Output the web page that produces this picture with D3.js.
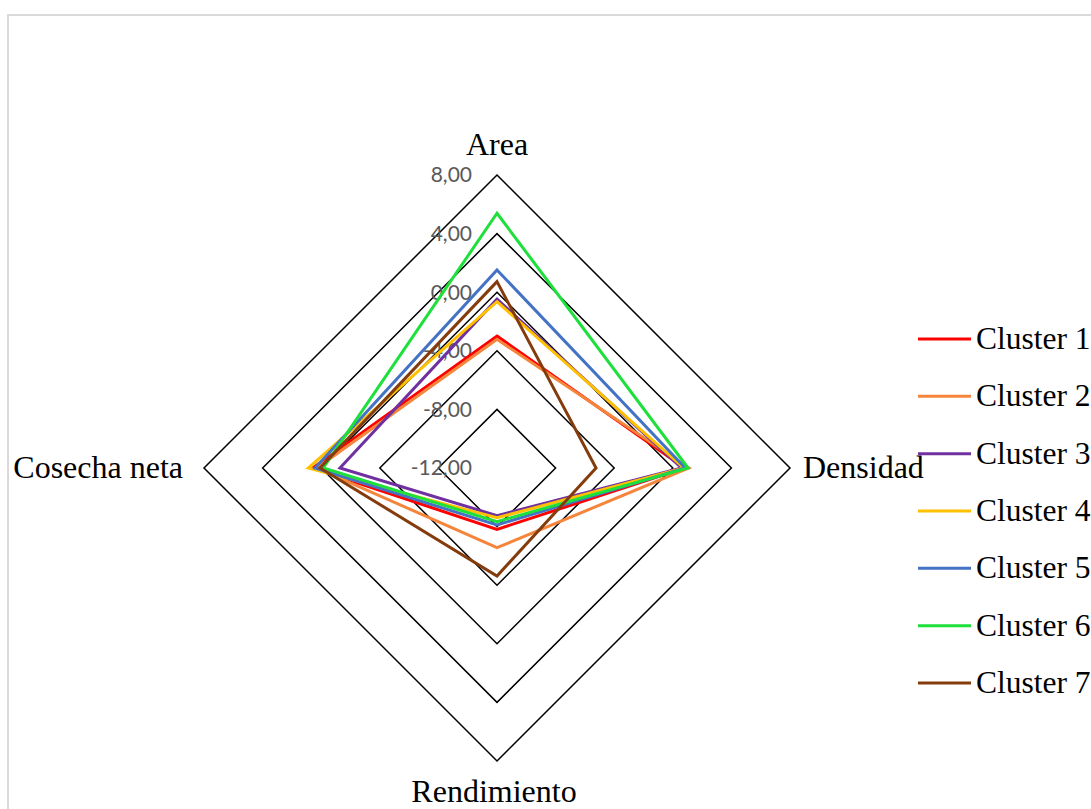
<!DOCTYPE html>
<html>
<head>
<meta charset="utf-8">
<script src="https://cdn.jsdelivr.net/npm/d3@7"></script>
<style>
  html, body { margin: 0; padding: 0; background: #fff; }
  svg { display: block; }
</style>
</head>
<body>
<svg id="chart" width="1091" height="809"></svg>
<script>
// Radar axes, clockwise from the top
const axes = ["Area", "Densidad", "Rendimiento", "Cosecha neta"];

// Cluster profiles (Area, Densidad, Rendimiento, Cosecha neta)
const cluster1 = [-2.99, 0.80, -7.81, 0.58];
const cluster2 = [-3.22, 1.10, -6.56, 0.30];
const cluster3 = [-0.48, 0.60, -8.75, -1.28];
const cluster4 = [-0.65, 0.75, -8.60, 0.88];
const cluster5 = [1.52, 0.85, -8.11, 0.42];
const cluster6 = [5.39, 1.04, -8.34, -0.14];
const cluster7 = [0.72, -5.24, -4.63, 0.08];

const seriesNames = ["Cluster 1", "Cluster 2", "Cluster 3", "Cluster 4", "Cluster 5", "Cluster 6", "Cluster 7"];
const seriesValues = [cluster1, cluster2, cluster3, cluster4, cluster5, cluster6, cluster7];
const seriesColors = ["#FF0000", "#F5853A", "#7030A0", "#FFC000", "#4472C4", "#1EE03A", "#843C0C"];

// Radial tick values and their labels
const tickValues = [-12, -8, -4, 0, 4, 8];
const tickLabels = ["-12,00", "-8,00", "-4,00", "0,00", "4,00", "8,00"];

const svg = d3.select("#chart");
const cx = 497, cy = 468, R = 293;

// Outer chart frame
svg.append("rect")
  .attr("x", 8).attr("y", 15)
  .attr("width", 1200).attr("height", 900)
  .attr("fill", "none")
  .attr("stroke", "#d9d9d9")
  .attr("stroke-width", 2);

const r = d3.scaleLinear().domain([-12, 8]).range([0, R]);
const angle = i => (i / axes.length) * 2 * Math.PI;
const pt = (v, i) => [cx + r(v) * Math.sin(angle(i)), cy - r(v) * Math.cos(angle(i))];

const g = svg.append("g");

// Diamond grid rings
tickValues.filter(v => v > -12).forEach(v => {
  g.append("path")
    .attr("d", d3.line()(axes.map((_, i) => pt(v, i))) + "Z")
    .attr("fill", "none")
    .attr("stroke", "#000")
    .attr("stroke-width", 1.5);
});

// Tick labels along the top axis
g.selectAll(".tick")
  .data(tickValues)
  .join("text")
  .attr("x", cx - 25)
  .attr("y", (d) => cy - r(d))
  .attr("dy", "0.35em")
  .attr("text-anchor", "end")
  .attr("font-family", "Lato, 'Open Sans', sans-serif")
  .attr("font-size", 21)
  .attr("fill", "#595959")
  .text((d, i) => tickLabels[i]);

// Axis titles
const labelFont = "'Liberation Serif', 'Times New Roman', serif";
const axisLabelPos = [
  { x: cx, y: cy - R - 20, anchor: "middle" },
  { x: cx + R + 13, y: cy + 10, anchor: "start" },
  { x: cx - 3, y: cy + R + 41, anchor: "middle" },
  { x: cx - R - 21, y: cy + 10, anchor: "end" }
];
axes.forEach((a, i) => {
  g.append("text")
    .attr("x", axisLabelPos[i].x)
    .attr("y", axisLabelPos[i].y)
    .attr("text-anchor", axisLabelPos[i].anchor)
    .attr("font-family", labelFont)
    .attr("font-size", 32)
    .attr("fill", "#000")
    .text(a);
});

// Cluster polygons
const line = d3.line();
seriesValues.forEach((vals, s) => {
  g.append("path")
    .attr("d", line(vals.map((v, i) => pt(v, i))) + "Z")
    .attr("fill", "none")
    .attr("stroke", seriesColors[s])
    .attr("stroke-width", 3)
    .attr("stroke-linejoin", "miter");
});

// Legend
const legend = svg.append("g");
const ly = d3.scalePoint().domain(seriesNames).range([339, 683]);
seriesNames.forEach((name, s) => {
  legend.append("line")
    .attr("x1", 918).attr("x2", 971)
    .attr("y1", ly(name)).attr("y2", ly(name))
    .attr("stroke", seriesColors[s])
    .attr("stroke-width", 3);
  legend.append("text")
    .attr("x", 976)
    .attr("y", ly(name) + 10)
    .attr("font-family", labelFont)
    .attr("font-size", 31.5)
    .attr("fill", "#000")
    .text(name);
});
</script>
</body>
</html>
